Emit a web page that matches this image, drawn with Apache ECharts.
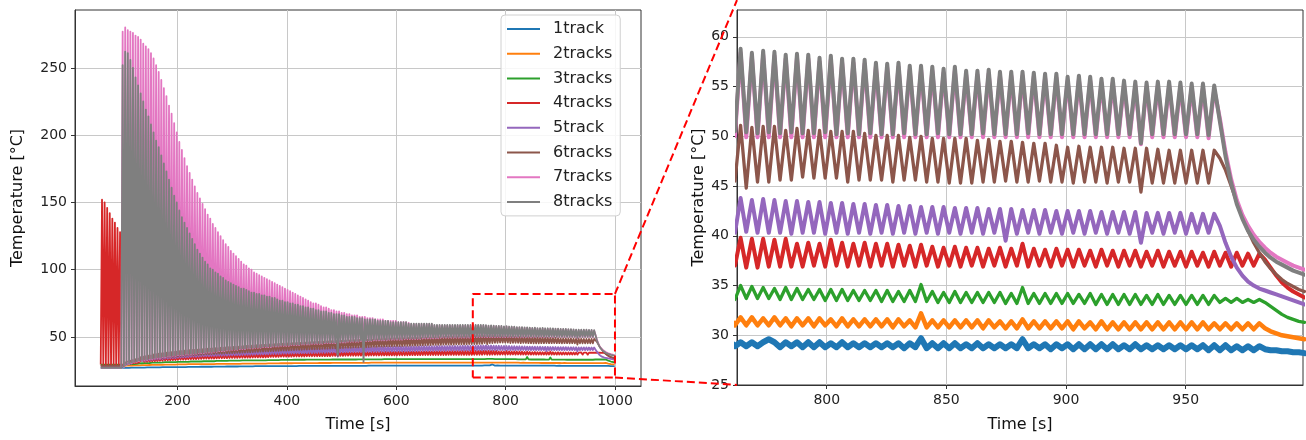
<!DOCTYPE html>
<html>
<head>
<meta charset="utf-8">
<script src="https://cdn.jsdelivr.net/npm/echarts/dist/echarts.min.js"></script>
<style>
html,body{margin:0;padding:0;background:#ffffff;}
#chart{width:1306px;height:440px;}
</style>
</head>
<body>
<div id="chart"></div>
<script>
// ---------------- data ----------------
const seriesNames = ['1track','2tracks','3tracks','4tracks','5track','6tracks','7tracks','8tracks'];
const seriesColors = ['#1f77b4','#ff7f0e','#2ca02c','#d62728','#9467bd','#8c564b','#e377c2','#7f7f7f'];
// samples are read at every peak and trough of the 4.712 s scan cycle
const sampleStart = 59.56;   // s
const sampleStep = 2.356;    // s

const track1 = [
27.3,27.6,27.3,27.6,27.3,27.6,27.3,27.6,27.3,27.6,
27.3,27.6,27.3,27.6,27.3,27.6,27.3,27.4,27.0,27.4,
27.1,27.6,27.1,27.6,27.2,27.7,27.2,27.7,27.2,27.7,
27.3,27.8,27.3,27.9,27.3,27.9,27.4,27.9,27.4,28.0,
27.5,28.0,27.5,28.1,27.5,28.1,27.5,28.1,27.6,28.2,
27.6,28.2,27.6,28.3,27.6,28.3,27.6,28.3,27.7,28.3,
27.7,28.4,27.7,28.4,27.7,28.4,27.7,28.4,27.8,28.5,
27.8,28.5,27.8,28.5,27.8,28.5,27.8,28.5,27.9,28.6,
27.9,28.6,27.9,28.6,27.9,28.6,27.9,28.6,28.0,28.7,
28.0,28.7,28.0,28.7,28.0,28.7,28.0,28.7,28.1,28.8,
28.1,28.8,28.1,28.8,28.1,28.8,28.1,28.8,28.2,28.9,
28.2,28.9,28.2,28.9,28.2,28.9,28.2,28.9,28.2,28.9,
28.3,28.9,28.3,28.9,28.3,28.9,28.3,29.0,28.3,29.0,
28.3,29.0,28.3,29.0,28.3,29.0,28.4,29.0,28.4,29.0,
28.4,29.0,28.4,29.0,28.4,29.0,28.4,29.1,28.4,29.1,
28.4,29.1,28.4,29.1,28.5,29.1,28.5,29.1,28.5,29.1,
28.5,29.1,28.5,29.1,28.5,29.1,28.5,29.1,28.5,29.1,
28.5,29.1,28.5,29.1,28.5,29.2,28.6,29.2,28.6,29.2,
28.6,29.2,28.6,29.2,28.6,29.2,28.6,29.2,28.6,29.2,
28.6,29.2,28.6,29.2,28.6,29.2,28.6,29.2,28.6,29.2,
28.6,29.2,28.6,29.2,28.6,29.2,28.6,29.2,28.7,29.3,
28.7,29.3,28.7,29.3,28.7,29.3,28.7,29.3,28.7,29.3,
28.7,29.3,28.7,29.3,28.7,29.3,28.7,29.3,28.7,29.3,
28.7,29.3,28.7,29.3,28.7,29.3,28.7,29.3,28.7,29.3,
28.7,29.3,28.7,29.3,28.8,29.3,28.8,29.4,28.8,29.4,
28.8,29.4,28.8,29.4,28.8,29.4,28.8,29.4,28.8,29.4,
28.8,29.4,28.8,29.4,28.8,29.4,28.8,29.4,28.8,29.4,
28.8,29.4,28.8,29.4,28.8,29.4,28.8,29.4,28.8,29.4,
28.8,29.4,28.8,29.4,28.8,29.4,28.8,29.4,28.8,29.4,
28.8,29.4,28.8,29.4,28.8,29.4,28.8,29.4,28.9,29.3,
28.9,29.3,28.9,29.3,29.6,29.3,28.8,29.3,28.9,29.3,
28.8,29.3,28.8,29.3,28.8,29.2,28.8,29.3,28.8,29.2,
28.8,29.2,28.8,29.2,28.8,29.2,28.8,29.2,28.7,29.2,
28.8,29.7,28.7,29.2,28.7,29.2,28.7,29.2,28.7,29.1,
28.7,29.2,28.7,29.1,28.7,29.1,28.7,29.1,28.7,29.6,
28.7,29.1,28.7,29.1,28.6,29.1,28.7,29.1,28.6,29.1,
28.6,29.1,28.6,29.1,28.6,29.1,28.6,29.0,28.6,29.1,
28.6,29.0,28.6,29.0,28.6,29.0,28.6,29.0,28.6,29.0,
28.6,29.0,28.5,29.0,28.5,29.0,28.5,28.9,28.5,28.9,
28.5,28.9,28.6,28.5,28.5,28.4,28.4,28.3,28.3,28.2
];

const track2 = [
29.0,29.3,29.0,29.3,29.0,29.3,29.0,29.3,29.0,29.3,
29.0,29.3,29.0,29.3,29.0,29.3,29.0,28.9,28.4,28.9,
28.7,29.3,28.8,29.4,28.8,29.4,28.9,29.5,28.9,29.5,
29.0,29.7,29.1,29.8,29.1,29.8,29.1,29.8,29.2,29.9,
29.3,30.0,29.3,30.1,29.3,30.1,29.3,30.1,29.4,30.2,
29.5,30.3,29.5,30.3,29.5,30.3,29.5,30.3,29.5,30.3,
29.6,30.4,29.7,30.5,29.7,30.5,29.7,30.5,29.8,30.5,
29.8,30.6,29.8,30.6,29.8,30.6,29.8,30.6,29.8,30.6,
29.9,30.7,29.9,30.7,29.9,30.7,29.9,30.7,29.9,30.7,
30.0,30.9,30.0,30.9,30.0,30.9,30.0,30.9,30.0,30.9,
30.1,31.0,30.1,31.0,30.1,31.0,30.1,31.0,30.1,31.0,
30.2,31.1,30.2,31.1,30.2,31.1,30.2,31.1,30.2,31.1,
30.3,31.2,30.3,31.2,30.3,31.2,30.3,31.2,30.3,31.2,
30.4,31.3,30.4,31.3,30.4,31.3,30.4,31.3,30.4,31.3,
30.5,31.4,30.5,31.4,30.5,31.4,30.5,31.4,30.5,31.4,
30.6,31.4,30.6,31.4,30.6,31.4,30.6,31.4,30.6,31.4,
30.6,31.5,30.6,31.5,30.6,31.5,30.6,31.5,30.6,31.5,
30.7,31.5,30.7,31.5,30.7,31.5,30.7,31.5,30.7,31.5,
30.8,31.6,30.8,31.6,30.8,31.6,30.8,31.6,30.8,31.6,
30.8,31.6,30.8,31.6,30.8,31.6,30.8,31.6,30.8,31.6,
30.8,31.6,30.8,31.6,30.8,31.6,30.8,31.6,30.8,31.6,
30.9,31.7,30.9,31.7,30.9,31.7,30.9,31.7,30.9,31.7,
30.9,31.7,30.9,31.7,30.9,31.7,30.9,31.7,30.9,31.7,
30.9,31.7,30.9,31.7,30.9,31.7,30.9,31.7,30.9,31.7,
31.0,31.8,31.0,31.8,31.0,31.8,31.0,31.8,31.0,31.8,
31.0,31.8,31.0,31.8,31.0,31.8,31.0,31.8,31.0,31.8,
31.0,31.8,31.0,31.8,31.0,31.8,31.0,31.8,31.0,31.8,
31.0,31.8,31.0,31.8,31.0,31.8,31.0,31.8,31.0,31.8,
31.0,31.8,31.0,31.8,31.0,31.8,31.0,31.8,31.0,31.8,
31.0,31.8,31.0,31.8,31.0,31.8,31.0,31.8,31.0,31.8,
31.0,31.8,31.0,31.7,31.0,31.8,31.0,31.7,30.9,31.7,
31.0,31.7,30.9,31.7,31.0,31.6,30.9,31.7,30.9,31.6,
30.9,31.6,30.9,31.6,30.9,31.6,30.8,31.6,30.9,31.5,
30.8,32.2,30.8,31.5,30.8,31.5,30.8,31.5,30.8,31.5,
30.8,31.5,30.7,31.5,30.8,31.4,30.7,31.4,30.7,31.6,
30.7,31.4,30.7,31.4,30.7,31.4,30.7,31.4,30.6,31.4,
30.7,31.3,30.6,31.4,30.6,31.3,30.6,31.3,30.6,31.3,
30.6,31.3,30.6,31.3,30.6,31.3,30.6,31.3,30.6,31.3,
30.6,31.3,30.6,31.2,30.6,31.2,30.6,31.2,30.6,31.2,
30.6,31.2,30.7,30.4,30.2,30.0,29.9,29.8,29.7,29.6
];

const track3 = [
29.5,29.8,29.5,29.8,29.5,29.8,29.5,29.8,29.5,29.8,
29.5,29.8,29.5,29.8,29.5,29.8,29.5,29.6,29.0,29.6,
29.6,30.4,29.7,30.6,29.8,30.7,29.9,30.8,30.0,30.9,
30.4,31.4,30.5,31.5,30.6,31.6,30.6,31.6,30.7,31.7,
30.9,32.0,31.0,32.1,31.0,32.1,31.0,32.1,31.1,32.2,
31.3,32.4,31.3,32.4,31.3,32.4,31.3,32.4,31.3,32.4,
31.6,32.8,31.6,32.8,31.6,32.8,31.6,32.8,31.6,32.8,
31.8,33.0,31.8,33.0,31.8,33.0,31.8,33.0,31.8,33.0,
32.0,33.2,32.0,33.2,32.0,33.2,32.0,33.2,32.0,33.2,
32.2,33.4,32.2,33.4,32.2,33.4,32.2,33.4,32.2,33.4,
32.4,33.6,32.4,33.6,32.4,33.6,32.4,33.6,32.4,33.6,
32.6,33.8,32.6,33.8,32.6,33.8,32.6,33.8,32.6,33.8,
32.7,33.9,32.7,33.9,32.7,33.9,32.7,33.9,32.7,33.9,
32.9,34.1,32.9,34.1,32.9,34.1,32.9,34.1,32.9,34.1,
33.0,34.2,33.0,34.2,33.0,34.2,33.0,34.2,33.0,34.2,
33.1,34.3,33.1,34.3,33.1,34.3,33.1,34.3,33.1,34.3,
33.2,34.4,33.2,34.4,33.2,34.4,33.2,34.4,33.2,34.4,
33.2,34.4,33.2,34.4,33.2,34.4,33.2,34.4,33.2,34.4,
33.3,34.5,33.3,34.5,33.3,34.5,33.3,34.5,33.3,34.5,
33.3,34.5,33.3,34.5,33.3,34.5,33.3,34.5,33.3,34.5,
33.4,34.6,33.4,34.6,33.4,34.6,33.4,34.6,33.4,34.6,
33.4,34.6,33.4,34.6,33.4,34.6,33.4,34.6,33.4,34.6,
33.5,34.7,33.5,34.7,33.5,34.7,33.5,34.7,33.5,34.7,
33.5,34.7,33.5,34.7,33.5,34.7,33.5,34.7,33.5,34.7,
33.5,34.8,33.5,34.8,33.5,34.8,33.5,34.8,33.5,34.8,
33.6,34.8,33.6,34.8,33.6,34.8,33.6,34.8,33.6,34.8,
33.6,34.8,33.6,34.8,33.6,34.8,33.6,34.8,33.6,34.8,
33.6,34.9,33.6,34.9,33.6,34.9,33.6,34.9,33.6,34.9,
33.6,34.9,33.6,34.9,33.6,34.9,33.6,34.9,33.6,34.9,
33.6,34.9,33.6,34.9,33.6,34.9,33.6,34.9,33.6,35.0,
33.7,34.9,33.7,34.8,33.7,34.7,33.6,34.8,33.6,34.7,
33.6,34.6,33.6,34.6,33.5,34.6,33.5,34.6,33.5,34.5,
33.5,34.5,33.5,34.5,33.4,34.5,33.4,34.4,33.4,34.5,
33.4,35.1,33.4,34.4,33.3,34.3,33.3,34.4,33.3,34.3,
33.3,34.3,33.3,34.3,33.3,34.3,33.2,34.2,33.2,34.8,
33.2,34.2,33.2,34.2,33.2,34.2,33.2,34.2,33.2,34.1,
33.2,34.2,33.1,34.1,33.1,34.1,33.1,34.1,33.1,34.1,
33.1,34.0,33.1,34.1,33.1,34.0,33.1,34.0,33.1,34.0,
33.1,34.0,33.1,34.0,33.3,33.7,33.3,33.7,33.3,33.6,
33.3,33.6,33.3,32.9,32.5,32.1,31.8,31.6,31.4,31.3
];

const track4 = [
29.5,152,29.5,150,29.5,146,29.5,142,29.5,138,
29.5,135,29.5,131,29.5,128,29.5,30.0,29.6,30.3,
30.0,30.9,30.2,31.2,30.4,31.5,30.6,31.8,30.8,32.1,
31.2,32.7,31.4,33.0,31.5,33.2,31.6,33.3,31.8,33.5,
32.0,33.8,32.1,33.9,32.2,34.0,32.3,34.1,32.4,34.3,
32.6,34.5,32.7,34.6,32.7,34.6,32.8,34.7,32.9,34.8,
33.1,35.1,33.2,35.2,33.2,35.2,33.3,35.3,33.4,35.4,
33.5,35.6,33.6,35.7,33.6,35.7,33.7,35.8,33.8,35.9,
33.9,36.0,33.9,36.1,33.9,36.1,34.0,36.2,34.0,36.3,
34.1,36.4,34.2,36.5,34.2,36.5,34.3,36.6,34.3,36.6,
34.4,36.7,34.5,36.8,34.5,36.8,34.5,36.9,34.6,36.9,
34.6,37.0,34.7,37.1,34.7,37.1,34.7,37.1,34.8,37.2,
34.9,37.3,34.9,37.3,34.9,37.3,34.9,37.3,34.9,37.3,
35.1,37.5,35.2,37.6,35.2,37.6,35.2,37.6,35.3,37.7,
35.4,37.8,35.4,37.8,35.4,37.8,35.4,37.8,35.4,37.8,
35.5,38.0,35.5,38.0,35.5,38.0,35.5,38.0,35.5,38.0,
35.7,38.2,35.7,38.2,35.7,38.2,35.7,38.2,35.7,38.2,
35.8,38.4,35.8,38.4,35.8,38.4,35.8,38.4,35.8,38.4,
36.0,38.6,36.0,38.6,36.0,38.6,36.0,38.6,36.0,38.6,
36.1,38.7,36.1,38.7,36.1,38.7,36.1,38.7,36.1,38.7,
36.2,38.8,36.2,38.8,36.2,38.8,36.2,38.8,36.2,38.8,
36.3,38.9,36.3,38.9,36.3,38.9,36.3,38.9,36.3,38.9,
36.4,39.0,36.4,39.0,36.4,39.0,36.4,39.0,36.4,39.0,
36.4,39.1,36.4,39.1,36.4,39.1,36.4,39.1,36.4,39.1,
36.5,39.2,36.5,39.2,36.5,39.2,36.5,39.2,36.5,39.2,
36.6,39.3,36.6,39.3,36.6,39.3,36.6,39.3,36.6,39.3,
36.6,39.4,36.6,39.4,36.6,39.4,36.6,39.4,36.6,39.4,
36.7,39.5,36.7,39.5,36.7,39.5,36.7,39.5,36.7,39.5,
36.7,39.6,36.7,39.6,36.7,39.6,36.7,39.6,36.7,39.6,
36.8,39.7,36.8,39.7,36.8,39.7,36.8,39.7,37.0,39.8,
36.8,39.7,36.8,39.7,36.9,39.6,36.9,39.7,36.9,39.2,
36.9,39.3,37.0,39.2,36.9,39.6,37.0,39.3,36.9,39.2,
37.0,39.3,36.9,39.2,37.0,39.2,36.9,39.1,37.0,39.0,
36.9,39.1,37.0,38.9,36.9,38.8,37.0,38.9,36.9,38.8,
37.0,38.8,36.9,38.7,37.0,38.8,36.9,38.7,37.0,39.2,
36.9,38.7,37.0,38.6,36.9,38.7,37.0,38.6,36.9,38.6,
37.0,38.5,36.9,38.6,37.0,38.5,36.9,38.5,37.0,38.5,
36.9,38.4,37.0,38.5,36.9,38.4,37.0,38.4,36.9,38.4,
37.0,38.3,36.9,38.4,37.0,38.3,36.9,38.3,37.0,38.2,
37.0,38.2,37.6,36.8,36.0,35.3,34.8,34.4,34.1,33.8
];

const track5 = [
28.5,28.8,28.5,28.8,28.5,28.8,28.5,28.8,28.5,28.8,
28.5,28.8,28.5,28.8,28.5,28.8,28.5,29.4,29.0,30.2,
29.8,31.0,30.2,31.5,30.5,32.0,30.8,32.5,31.2,33.0,
31.8,33.8,32.1,34.2,32.3,34.5,32.5,34.7,32.7,34.9,
33.0,35.3,33.2,35.5,33.3,35.7,33.5,35.9,33.6,36.0,
33.9,36.3,34.0,36.4,34.1,36.5,34.2,36.6,34.3,36.8,
34.6,37.1,34.7,37.2,34.8,37.3,34.9,37.4,35.0,37.5,
35.2,37.8,35.3,37.9,35.3,37.9,35.4,38.0,35.5,38.1,
35.7,38.3,35.8,38.4,35.8,38.4,35.9,38.5,35.9,38.6,
36.0,38.8,36.1,38.9,36.1,38.9,36.2,39.0,36.2,39.0,
36.3,39.2,36.4,39.3,36.4,39.3,36.5,39.4,36.5,39.4,
36.6,39.6,36.7,39.7,36.7,39.7,36.8,39.8,36.8,39.9,
36.9,40.0,37.0,40.1,37.0,40.1,37.1,40.2,37.1,40.3,
37.2,40.4,37.3,40.5,37.3,40.5,37.4,40.6,37.4,40.7,
37.5,40.7,37.6,40.8,37.6,40.8,37.7,40.9,37.7,41.0,
37.8,41.0,37.9,41.1,37.9,41.1,38.0,41.2,38.0,41.3,
38.0,41.3,38.1,41.4,38.1,41.4,38.2,41.5,38.2,41.6,
38.3,41.6,38.3,41.7,38.3,41.7,38.4,41.8,38.4,41.9,
38.5,41.9,38.6,42.0,35.5,42.0,38.6,42.1,38.7,42.1,
38.7,42.1,38.8,42.2,38.8,42.2,38.8,42.3,38.9,42.3,
38.9,42.3,38.9,42.4,38.9,42.4,39.0,42.5,39.0,42.5,
39.0,42.5,39.1,42.6,39.1,42.6,39.2,42.7,39.2,42.7,
39.2,42.7,39.3,42.8,39.3,42.8,39.3,42.8,39.4,42.9,
39.4,42.9,39.4,42.9,39.4,42.9,39.4,42.9,39.4,42.9,
39.5,43.0,39.6,43.1,39.6,43.1,39.6,43.1,39.7,43.2,
39.7,43.2,39.7,43.2,39.7,43.2,39.7,43.2,39.7,43.2,
39.8,43.3,39.8,43.3,39.8,43.3,39.8,43.3,39.8,43.3,
39.9,43.4,39.9,43.4,39.9,43.4,39.9,43.4,39.9,43.4,
40.0,43.5,40.0,43.5,40.0,43.5,40.0,43.5,40.0,43.5,
40.1,43.6,40.1,43.6,40.2,43.7,40.2,43.7,40.3,43.8,
40.4,43.6,40.3,43.7,40.3,43.6,40.3,43.5,40.2,43.5,
40.3,43.4,40.3,43.4,40.2,43.3,40.3,43.3,40.2,43.2,
40.3,43.2,40.2,43.1,40.3,43.1,40.2,43.0,40.3,43.0,
40.2,42.9,40.3,42.9,40.2,42.9,40.3,42.8,40.2,42.8,
40.3,42.8,40.2,42.7,40.3,42.7,39.5,42.7,40.2,42.6,
40.3,42.6,40.2,42.6,40.3,42.5,40.2,42.5,40.3,42.5,
40.2,42.5,40.3,42.4,40.2,42.4,40.3,42.4,40.2,42.4,
39.3,42.3,40.3,42.3,40.2,42.3,40.3,42.3,40.2,42.2,
40.3,42.2,40.3,42.2,41.0,39.3,37.9,36.8,36.0,35.4,
35.0,34.7,34.5,34.3,34.1,33.9,33.7,33.5,33.3,33.1
];

const track6 = [
28.5,28.9,28.5,28.9,28.5,28.9,28.5,28.9,28.5,28.9,
28.5,28.9,28.5,28.9,28.5,28.9,28.5,29.6,29.1,31.0,
30.0,31.8,30.4,32.4,30.8,33.0,31.2,33.5,31.6,34.0,
32.2,35.0,32.5,35.4,32.8,35.8,33.0,36.1,33.3,36.4,
33.7,37.0,33.9,37.3,34.1,37.6,34.3,37.8,34.5,38.0,
34.8,38.4,35.0,38.6,35.1,38.8,35.2,39.0,35.4,39.2,
35.6,39.5,35.8,39.7,35.9,39.8,36.0,40.0,36.2,40.2,
36.4,40.4,36.5,40.5,36.6,40.6,36.7,40.8,36.8,40.9,
37.0,41.1,37.1,41.3,37.2,41.4,37.3,41.5,37.4,41.7,
37.5,41.8,37.6,42.0,37.6,42.1,37.7,42.2,37.8,42.4,
37.9,42.5,38.0,42.7,38.1,42.8,38.2,42.9,38.3,43.1,
38.4,43.2,38.5,43.4,38.6,43.5,38.7,43.6,38.8,43.8,
38.9,43.9,39.0,44.0,39.1,44.1,39.2,44.2,39.3,44.4,
39.4,44.5,39.5,44.6,39.6,44.7,39.7,44.8,39.8,44.9,
39.9,45.0,40.0,45.1,40.0,45.2,40.1,45.3,40.2,45.4,
40.3,45.5,40.4,45.6,40.4,45.7,40.5,45.8,40.6,45.9,
40.7,46.0,40.8,46.1,40.8,46.2,40.9,46.3,41.0,46.4,
41.1,46.5,41.2,46.6,41.2,46.7,41.3,46.8,41.4,46.9,
41.5,47.0,41.6,47.1,36.0,47.1,41.7,47.2,41.8,47.3,
41.9,47.4,42.0,47.5,42.0,47.6,42.1,47.7,42.2,47.8,
42.2,47.9,42.3,48.0,42.3,48.0,42.4,48.1,42.5,48.2,
42.6,48.3,42.7,48.4,42.7,48.4,42.8,48.5,42.9,48.6,
42.9,48.7,43.0,48.8,43.0,48.8,43.1,48.9,43.2,49.0,
43.2,49.0,43.3,49.1,43.3,49.1,43.4,49.2,43.5,49.3,
43.5,49.3,43.6,49.4,43.6,49.4,43.7,49.5,43.8,49.6,
43.8,49.6,43.9,49.7,43.9,49.7,44.0,49.8,44.1,49.9,
44.1,49.9,44.2,50.0,44.2,50.0,44.3,50.1,44.3,50.2,
44.3,50.2,44.4,50.3,44.4,50.3,44.5,50.4,44.5,50.5,
44.5,50.5,44.6,50.6,44.6,50.6,44.7,50.7,44.7,50.8,
44.8,50.8,44.8,50.9,44.9,50.9,45.0,51.0,45.5,51.1,
44.8,50.9,45.4,51.0,45.4,51.0,45.6,50.6,45.6,50.8,
45.9,50.6,45.8,50.6,45.8,50.5,45.8,50.5,45.4,50.5,
45.6,50.3,45.6,50.1,45.6,50.1,45.4,50.1,45.6,49.9,
45.6,50.0,45.4,49.8,45.4,49.8,45.3,49.8,45.3,49.8,
45.3,49.6,45.4,49.7,45.4,49.5,45.5,49.5,45.4,49.4,
45.4,49.3,45.5,49.3,45.4,49.1,45.4,48.9,45.3,49.0,
45.4,48.9,45.4,48.9,45.3,48.9,45.4,48.8,45.4,48.8,
44.4,48.8,45.3,48.7,45.3,48.6,45.3,48.6,45.3,48.6,
45.3,48.6,45.3,48.6,47.8,46.6,45.0,43.4,41.9,40.5,
39.3,38.3,37.4,36.7,36.1,35.6,35.2,34.9,34.6,34.4
];

const track7 = [
27,27,27,27,27,27,27,27,27,27,
27,27,27,27,27,27,27,277,27.5,280,
29,278,30,277,30.5,276,31,274,31.5,273,
32,271,32.5,268,33,266,33,264,33.5,261,
33.5,257,34,252,34.5,247,34.5,241,35,235,
35,229,35.5,222,35.5,216,36,209,36,202,
36.5,195,36.5,189,36.5,183,37,177,37,172,
37,167,37.5,162,37.5,157,38,153,38,149,
38,145,38.5,141,38.5,138,38.5,134,39,131,
39,128,39.5,125,39.5,122,39.5,119,40,117,
40,114,40.5,112,40.5,110,40.5,108,41,106,
41,104,41,103,41.5,101,41.5,100,41.5,98,
42,97,42,96,42,95,42.5,94,42.5,93,
42.5,92,42.5,91,43,90,43,89,43,88,
43.5,87,43.5,86,43.5,85,43.5,84,44,83,
44,82,44,81,44,80,44.5,79,44.5,78,
44.5,77,44.5,76,45,75,45,75,45,74,
45,73,45,72,45.5,72,45.5,71,45.5,70,
45.5,70,45.5,69,46,69,46,68,46,68,
46,67,46.5,67,46.5,66,46.5,66,46.5,66,
46.5,65,47,65,47,65,47,64,47,64,
47,64,47.5,63,47.5,63,47.5,63,47.5,63,
47.5,62,47.5,62,48,62,48,62,48,62,
48,61,48,61,48,61,48.5,61,48.5,60.5,
48.5,59.5,48.5,59.5,48.5,59.5,48.5,59.5,48.5,59.5,
49,59.5,49,59.5,49,59.5,49,59.5,49,58.5,
49,58.5,49,58.5,49.5,58.5,49.5,58.5,49.5,58.5,
49.5,58.5,49.5,58.5,49.5,58.5,49.5,58.5,49.5,58.5,
49.5,58.5,49.5,58.5,49.5,58.5,49.5,58.5,49.5,58.5,
50,58.5,50,58.5,50,58.5,50,58.5,50.0,58.4,
49.9,58.0,49.9,58.2,49.9,58.1,49.9,57.8,49.9,57.9,
49.9,57.8,49.9,57.5,49.9,57.7,49.9,57.4,49.9,57.4,
49.9,57.3,49.9,57.0,49.9,56.9,49.9,57.0,49.9,56.7,
49.9,56.7,49.9,56.6,49.9,56.4,49.9,56.6,49.9,56.2,
49.9,56.2,49.9,56.3,49.9,56.1,49.9,56.1,49.9,56.1,
49.9,56.0,49.9,55.9,49.9,55.9,49.9,55.6,49.9,55.7,
49.9,55.6,49.9,55.4,49.9,55.4,49.9,55.2,49.9,55.1,
49.2,55.0,49.9,55.1,49.9,55.1,49.9,55.0,49.9,54.9,
49.9,54.9,49.8,54.7,51.8,48.4,45.7,43.6,42.1,41.0,
40.1,39.4,38.8,38.3,37.9,37.6,37.3,37.0,36.8,36.6
];

const track8 = [
27,27,27,27,27,27,27,27,27,27,
27,27,27,27,27,27,27,252,28,262,
29.5,261,30.5,256,31,250,31.5,243,32,237,
32.5,231,33,225,33.5,219,33.5,214,34,208,
34,202,34.5,196,35,191,35,185,35.5,179,
35.5,173,36,167,36,161,36.5,155,36.5,150,
37,144,37,139,37,135,37.5,131,37.5,127,
37.5,123,38,119,38,115,38.5,112,38.5,109,
38.5,106,39,104,39,101,39,100,39.5,98,
39.5,97,40,95,40,94,40,92,40.5,91,
40.5,90,41,89,41,88,41,87,41.5,86,
41.5,86,41.5,85,42,84,42,83,42,83,
42.5,82,42.5,82,42.5,81,43,81,43,80,
43,80,43,79,43.5,79,43.5,78,43.5,77,
44,77,44,76,44,76,44,75,44.5,75,
44.5,74,44.5,74,44.5,73,45,73,45,72,
45,72,45,71,45.5,71,45.5,70,45.5,70,
45.5,69,45.5,69,46,69,46,68,46,68,
46,67,46,67,37,67,46.5,66,46.5,66,
46.5,65,47,65,47,65,47,65,47,64,
47,64,47.5,64,31.5,63,47.5,63,47.5,63,
47.5,63,48,63,48,62,48,62,48,62,
48,62,48,62,48.5,61,48.5,61,48.5,61,
48.5,61,48.5,61,48.5,61,49,61,49,60,
49,60,49,60,49,60,49,60,49,60,
49.5,60,49.5,60,49.5,60,49.5,60,49.5,59,
49.5,59,49.5,59,50,59,50,59,50,59,
50,59,50,59,50,59,50,59,50,59,
50,59,50,59,50,59,50,59,50,59,
50.5,59,50.5,59,50.5,59,50.5,59,50.5,58.8,
50.4,58.4,50.3,58.6,50.4,58.5,50.3,58.2,50.4,58.3,
50.3,58.2,50.3,57.9,50.4,58.1,50.2,57.8,50.3,57.8,
50.2,57.7,50.3,57.4,50.2,57.3,50.2,57.4,50.3,57.1,
50.2,57.1,50.2,57.0,50.3,56.8,50.2,57.0,50.2,56.6,
50.2,56.6,50.3,56.7,50.2,56.5,50.2,56.5,50.2,56.5,
50.3,56.4,50.2,56.3,50.2,56.3,50.2,56.0,50.2,56.1,
50.2,56.0,50.2,55.8,50.2,55.8,50.2,55.6,50.2,55.5,
49.3,55.4,50.2,55.5,50.2,55.5,50.2,55.4,50.2,55.3,
50.2,55.3,50.1,55.1,51.5,48.0,45.3,43.2,41.7,40.5,
39.6,38.9,38.3,37.8,37.4,37.1,36.8,36.5,36.3,36.1
];

// axes (ticks and ranges, in data units)
const mainTimeRange = [12.5, 1047.6];
const mainTempRange = [13.6, 293];
const mainTimeTicks = [200, 400, 600, 800, 1000];
const mainTempTicks = [50, 100, 150, 200, 250];
const zoomTimeRange = [762.5, 999];
const zoomTempRange = [25, 62.7];
const zoomTimeTicks = [800, 850, 900, 950];
const zoomTempTicks = [25, 30, 35, 40, 45, 50, 55, 60];
// red zoom window drawn on the overview plot
const zoomBoxTimes = [740, 1000];
const zoomBoxTemps = [20, 82];
const connectorTopTemp = 63.7;

// ---------------- chart ----------------
const FONT = 'DejaVu Sans';
const tracks = [track1, track2, track3, track4, track5, track6, track7, track8];
const mainWidth = 1.8;
const zoomWidths = [6, 4.5, 3.3, 4, 4, 3.3, 4, 4];

function toPoints(vals) {
  return vals.map((v, i) => [sampleStart + i * sampleStep, v]);
}

function makeAxis(gridIndex, range, ticks, name, nameGap) {
  return {
    type: 'value', gridIndex: gridIndex, min: range[0], max: range[1],
    name: name, nameLocation: 'middle', nameGap: nameGap,
    nameTextStyle: {fontSize: 16, color: '#111', fontFamily: FONT},
    axisLine: {show: true, onZero: false, lineStyle: {color: '#333', width: 1}},
    axisTick: {show: true, inside: false, length: 4, customValues: ticks, lineStyle: {color: '#333', width: 1}},
    axisLabel: {show: true, customValues: ticks, fontSize: 14, color: '#222', fontFamily: FONT, margin: 8,
                formatter: function (v) { return String(v); }},
    splitLine: {show: true, lineStyle: {color: '#c8c8c8', width: 1}},
    splitArea: {show: false}
  };
}

const series = [];
tracks.forEach((vals, s) => {
  series.push({
    type: 'line', name: seriesNames[s], xAxisIndex: 0, yAxisIndex: 0,
    data: toPoints(vals), symbol: 'none', showSymbol: false, silent: true, sampling: 'none',
    lineStyle: {color: seriesColors[s], width: mainWidth, join: 'round'},
    itemStyle: {color: seriesColors[s]}, z: 2
  });
});
tracks.forEach((vals, s) => {
  series.push({
    type: 'line', name: seriesNames[s], xAxisIndex: 1, yAxisIndex: 1,
    data: toPoints(vals), symbol: 'none', showSymbol: false, silent: true, sampling: 'none',
    lineStyle: {color: seriesColors[s], width: zoomWidths[s], join: 'round', cap: 'round'},
    itemStyle: {color: seriesColors[s]}, z: 2
  });
});
series.push({
  type: 'line', name: 'zoom window', xAxisIndex: 0, yAxisIndex: 0, symbol: 'none', silent: true, z: 4,
  data: [[zoomBoxTimes[0], zoomBoxTemps[0]], [zoomBoxTimes[1], zoomBoxTemps[0]], [zoomBoxTimes[1], zoomBoxTemps[1]],
         [zoomBoxTimes[0], zoomBoxTemps[1]], [zoomBoxTimes[0], zoomBoxTemps[0]]],
  lineStyle: {color: '#ff0000', width: 2, type: [8, 4]}
});

const option = {
  animation: false,
  backgroundColor: '#ffffff',
  textStyle: {fontFamily: FONT},
  grid: [
    {left: 75, top: 10, width: 566, height: 376, show: true, borderColor: '#333', borderWidth: 1, backgroundColor: 'transparent', containLabel: false, outerBoundsMode: 'none'},
    {left: 737, top: 10, width: 566, height: 375, show: true, borderColor: '#333', borderWidth: 1, backgroundColor: 'transparent', containLabel: false, outerBoundsMode: 'none'}
  ],
  xAxis: [
    makeAxis(0, mainTimeRange, mainTimeTicks, 'Time [s]', 31),
    makeAxis(1, zoomTimeRange, zoomTimeTicks, 'Time [s]', 32)
  ],
  yAxis: [
    makeAxis(0, mainTempRange, mainTempTicks, 'Temperature [°C]', 49),
    makeAxis(1, zoomTempRange, zoomTempTicks, 'Temperature [°C]', 29)
  ],
  legend: {
    data: seriesNames, orient: 'vertical', left: 501, top: 15,
    padding: [6, 8, 6, 6], itemWidth: 33, itemHeight: 2, itemGap: 8.7,
    icon: 'rect', selectedMode: false,
    textStyle: {fontSize: 16, fontFamily: FONT, color: '#222', lineHeight: 16, padding: [0, 0, 0, 8]},
    backgroundColor: 'rgba(255,255,255,0.85)', borderColor: '#d0d0d0', borderWidth: 1, borderRadius: 4
  },
  series: series
};

const chart = echarts.init(document.getElementById('chart'), null, {renderer: 'canvas'});
chart.setOption(option);

const boxTop = chart.convertToPixel({gridIndex: 0}, [zoomBoxTimes[1], zoomBoxTemps[1]]);
const boxBottom = chart.convertToPixel({gridIndex: 0}, [zoomBoxTimes[1], zoomBoxTemps[0]]);
const zoomTop = chart.convertToPixel({gridIndex: 1}, [zoomTimeRange[0], connectorTopTemp]);
const zoomBottom = chart.convertToPixel({gridIndex: 1}, [zoomTimeRange[0], zoomTempRange[0]]);
const connStyle = {stroke: '#ff0000', lineWidth: 2, lineDash: [8, 4]};
chart.setOption({
  graphic: [
    {type: 'line', z: 100, silent: true, shape: {x1: boxTop[0], y1: boxTop[1], x2: zoomTop[0], y2: zoomTop[1]}, style: connStyle},
    {type: 'line', z: 100, silent: true, shape: {x1: boxBottom[0], y1: boxBottom[1], x2: zoomBottom[0], y2: zoomBottom[1]}, style: connStyle}
  ]
});
</script>
</body>
</html>
